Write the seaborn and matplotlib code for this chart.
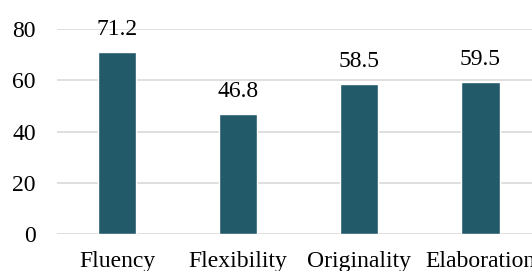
import matplotlib
matplotlib.use("Agg")
import matplotlib.pyplot as plt
import seaborn as sns
import pandas as pd

categories = ["Fluency", "Flexibility", "Originality", "Elaboration"]
values = [71.2, 46.8, 58.5, 59.5]
yticks = [0, 20, 40, 60, 80]

sns.set_theme(style="white")
plt.rcParams["font.family"] = ["Liberation Serif", "DejaVu Serif"]

df = pd.DataFrame({"cat": categories, "val": values})

fig = plt.figure(figsize=(5.32, 2.71), dpi=100)
ax = fig.add_axes([56.5 / 532, 37 / 271, (541 - 56.5) / 532, 205 / 271])
sns.barplot(data=df, x="cat", y="val", color="#225a69", width=0.315,
            saturation=1, ax=ax, zorder=3)
ax.set_ylim(0, 80)
ax.set_yticks(yticks)
ax.set_xlim(-0.5, 3.5)
ax.yaxis.grid(True, color="#d9d9d9", linewidth=1.2, zorder=0)
ax.set_axisbelow(True)
for s in ax.spines.values():
    s.set_visible(False)
ax.set_xlabel("")
ax.set_ylabel("")
ax.tick_params(axis="y", length=0, pad=15, labelsize=17, labelcolor="#000000")
ax.tick_params(axis="x", length=0, pad=12, labelsize=17, labelcolor="#000000")
for i, v in enumerate(values):
    ax.annotate(f"{v}", (i, v), xytext=(0, 12), textcoords="offset points",
                ha="center", va="baseline", fontsize=17, color="#000000")
fig.savefig("out.png", dpi=100)
